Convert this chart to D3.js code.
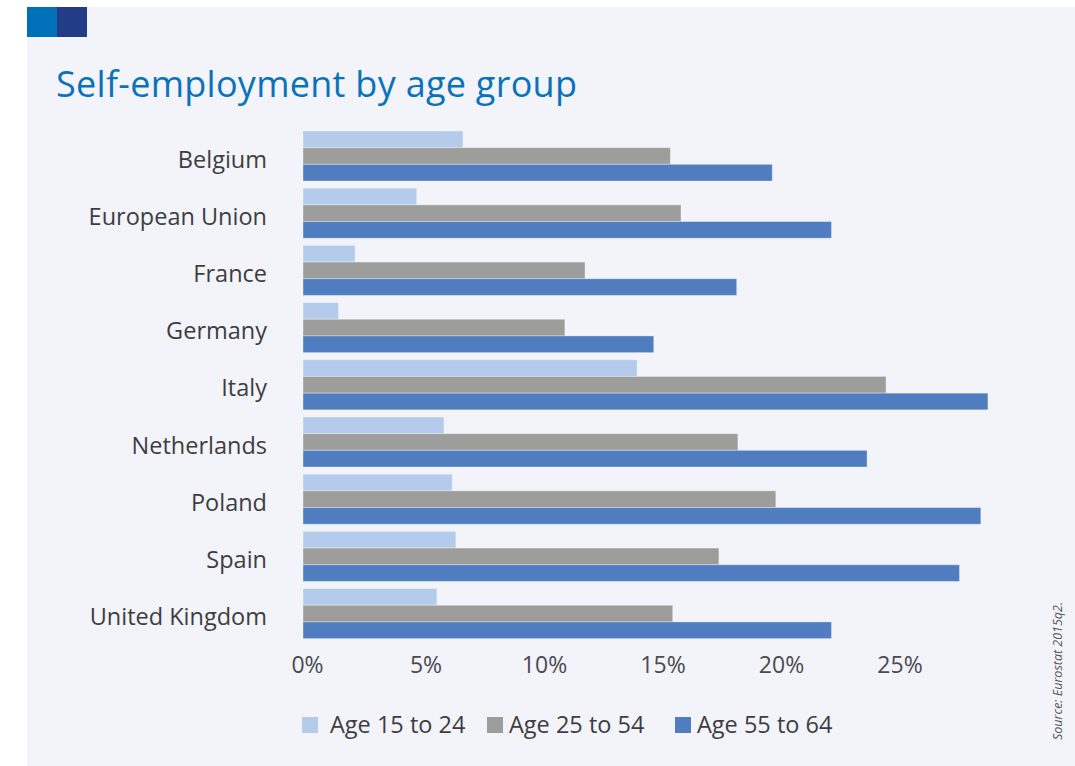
<!DOCTYPE html>
<html>
<head>
<meta charset="utf-8">
<script src="https://cdn.jsdelivr.net/npm/d3@7"></script>
<style>
  body { margin: 0; background: #fff; }
  svg { display: block; }
</style>
</head>
<body>
<script>
const countries = ["Belgium", "European Union", "France", "Germany", "Italy", "Netherlands", "Poland", "Spain", "United Kingdom"];
const seriesNames = ["Age 15 to 24", "Age 25 to 54", "Age 55 to 64"];
const age15to24 = [6.75, 4.8, 2.2, 1.5, 14.1, 5.95, 6.3, 6.45, 5.65];
const age25to54 = [15.5, 15.95, 11.9, 11.05, 24.6, 18.35, 19.95, 17.55, 15.6];
const age55to64 = [19.8, 22.3, 18.3, 14.8, 28.9, 23.8, 28.6, 27.7, 22.3];
const tickValues = [0, 5, 10, 15, 20, 25];
const colors = ["#b5cbeb", "#9d9d9b", "#507dc0"];

const W = 1075, H = 766;

let svg = d3.select("body").append("svg")
  .attr("width", W)
  .attr("height", H);

// panel background + corner squares
svg.append("rect").attr("x", 27).attr("y", 7).attr("width", W - 27).attr("height", H - 7).attr("fill", "#f3f4f9");
svg.append("rect").attr("x", 27).attr("y", 7).attr("width", 30).attr("height", 30).attr("fill", "#0070b8");
svg.append("rect").attr("x", 57).attr("y", 7).attr("width", 30).attr("height", 30).attr("fill", "#233c88");

svg.append("text")
  .attr("x", 56)
  .attr("y", 97)
  .attr("font-family", "Open Sans")
  .attr("font-size", "36px")
  .attr("fill", "#0a72ba")
  .attr("textLength", 521)
  .text("Self-employment by age group");

const x = d3.scaleLinear().domain([0, 30]).range([303, 303 + 30 * 23.7]);
const y = d3.scaleBand().domain(countries).range([127.4, 642.2]).paddingInner(0.125).paddingOuter(0.0625);
const y1 = d3.scaleBand().domain(seriesNames).range([0, y.bandwidth()]);

const rows = countries.map((c, i) => ({ country: c, values: [age15to24[i], age25to54[i], age55to64[i]] }));

let groups = svg.selectAll(".grp")
  .data(rows)
  .enter()
    .append("g")
      .attr("transform", d => "translate(0," + y(d.country) + ")");

groups.selectAll("rect")
  .data(d => d.values.map((v, k) => ({ v: v, k: k })))
  .enter()
    .append("rect")
      .attr("x", x(0))
      .attr("y", d => y1(seriesNames[d.k]))
      .attr("width", d => x(d.v) - x(0))
      .attr("height", y1.bandwidth())
      .attr("fill", d => colors[d.k])
      .attr("stroke", "rgba(255,255,255,0.35)")
      .attr("stroke-width", 1);

// country labels
svg.append("g")
  .attr("transform", "translate(267,4)")
  .call(d3.axisLeft(y).tickSize(0).tickPadding(0))
  .call(g => g.select(".domain").remove())
  .call(g => g.selectAll("text")
    .attr("font-family", "Open Sans")
    .attr("font-size", "23.5px")
    .attr("fill", "#3d3d42"));

// x axis labels
svg.append("g")
  .attr("transform", "translate(4,657)")
  .call(d3.axisBottom(x).tickValues(tickValues).tickFormat(d => d + "%").tickSize(0).tickPadding(0))
  .call(g => g.select(".domain").remove())
  .call(g => g.selectAll("text")
    .attr("dy", "0.71em")
    .attr("font-family", "Open Sans")
    .attr("font-size", "23px")
    .attr("fill", "#4a4a50"));

// legend
const legendX = [302, 487, 675];
const legendTextX = [330, 509, 697];
let legend = svg.selectAll(".leg")
  .data(seriesNames)
  .enter()
    .append("g");
legend.append("rect")
  .attr("x", (d, i) => legendX[i])
  .attr("y", 717)
  .attr("width", 16)
  .attr("height", 16)
  .attr("fill", (d, i) => colors[i]);
legend.append("text")
  .attr("x", (d, i) => legendTextX[i])
  .attr("y", 733)
  .attr("font-family", "Open Sans")
  .attr("font-size", "23.5px")
  .attr("fill", "#3d3d42")
  .text(d => d);

svg.append("text")
  .attr("transform", "translate(1062,740) rotate(-90)")
  .attr("font-family", "Open Sans")
  .attr("font-style", "italic")
  .attr("font-size", "12.5px")
  .attr("fill", "#555")
  .text("Source: Eurostat 2015q2.");
</script>
</body>
</html>
